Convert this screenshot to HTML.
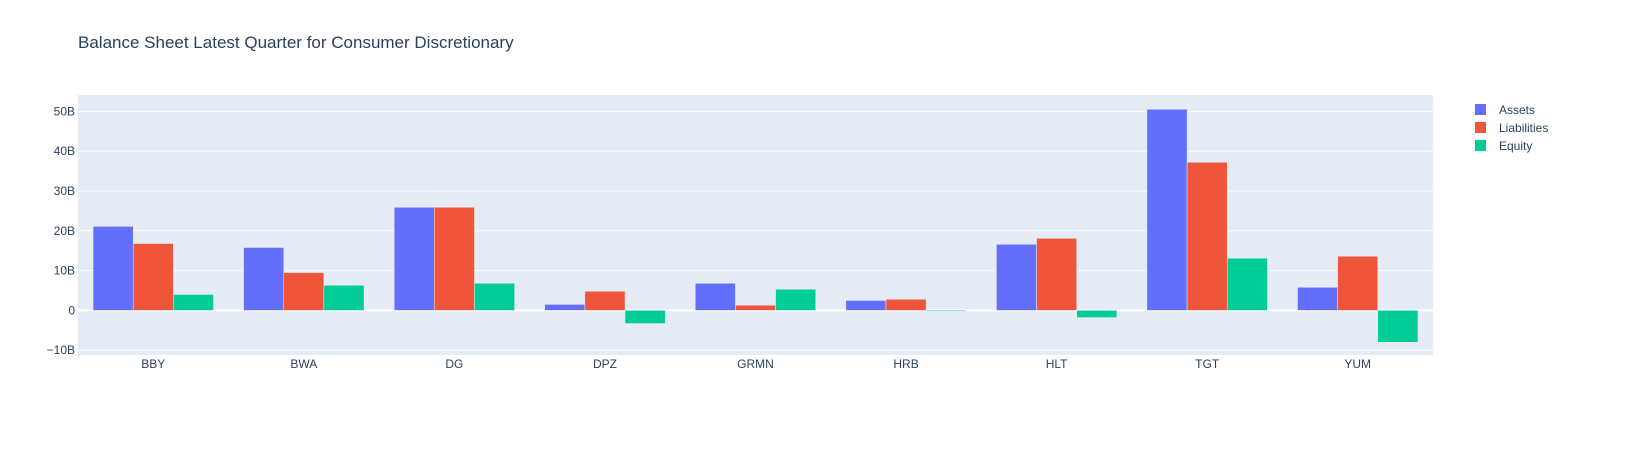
<!DOCTYPE html>
<html><head><meta charset="utf-8"><style>
body{margin:0;background:#fff;font-family:"Liberation Sans",sans-serif}
</style></head><body>
<svg id="chart" width="1634" height="450" xmlns="http://www.w3.org/2000/svg">
<text x="78" y="48" font-size="17" fill="#2a3f5f">Balance Sheet Latest Quarter for Consumer Discretionary</text>
<rect x="78" y="95" width="1355" height="260" fill="#e5ecf6"/>
<g id="grid"></g><g id="bars"></g><g id="axes"></g>
<g id="legend"></g>
</svg>
<script>
const categories=["BBY","BWA","DG","DPZ","GRMN","HRB","HLT","TGT","YUM"];
const assets=[21.1,15.8,25.9,1.5,6.8,2.5,16.6,50.5,5.8];
const liabilities=[16.8,9.5,25.9,4.8,1.3,2.8,18.1,37.2,13.6];
const equity=[4.0,6.3,6.8,-3.3,5.3,-0.2,-1.8,13.1,-8.0];
const tickValues=[-10,0,10,20,30,40,50];
const tickLabels=["\u221210B","0","10B","20B","30B","40B","50B"];
const seriesNames=["Assets","Liabilities","Equity"];
const colors=["#636efa","#ef553b","#00cc96"];
const NS="http://www.w3.org/2000/svg";
const x0=78,x1=1433,yMin=-11.2,yMax=54.1,pTop=95,pBot=355;
const y=v=>pBot-(v-yMin)/(yMax-yMin)*(pBot-pTop);
const band=(x1-x0)/categories.length;
const xc=i=>x0+band*(i+0.5);
function mk(tag,attrs,parent){const e=document.createElementNS(NS,tag);for(const k in attrs)e.setAttribute(k,attrs[k]);document.getElementById(parent).appendChild(e);return e;}
tickValues.forEach((t,i)=>{
  const g=mk("line",{x1:x0,x2:x1,y1:y(t),y2:y(t),stroke:"#fff","stroke-width":t===0?2:1},"grid");
  
  
  const l=mk("text",{x:x0-3,y:y(t)+4,"text-anchor":"end","font-size":12,fill:"#2a3f5f"},"axes");
  l.textContent=tickLabels[i];
  
  
});
const series=[assets,liabilities,equity];
const bw=band*0.8/3;
categories.forEach((c,i)=>{
  const l=mk("text",{x:xc(i),y:368,"text-anchor":"middle","font-size":12,fill:"#2a3f5f"},"axes");
  l.textContent=c;
  
  
  series.forEach((s,j)=>{
    const v=s[i];const bx=xc(i)-band*0.4+j*bw;
    const top=Math.min(y(v),y(0)),h=Math.abs(y(v)-y(0));
    const r=mk("rect",{x:bx,y:top,width:bw,height:Math.max(h,0.5),fill:colors[j],stroke:"#e5ecf6","stroke-width":0.5},"bars");
    
    
  });
});
seriesNames.forEach((n,j)=>{
  const r=mk("rect",{x:1475,y:104+j*18,width:11,height:11,fill:colors[j]},"legend");
  
  
  const t=mk("text",{x:1499,y:114+j*18,"font-size":12,fill:"#2a3f5f"},"legend");
  t.textContent=n;
  
  
});
</script>
</body></html>
